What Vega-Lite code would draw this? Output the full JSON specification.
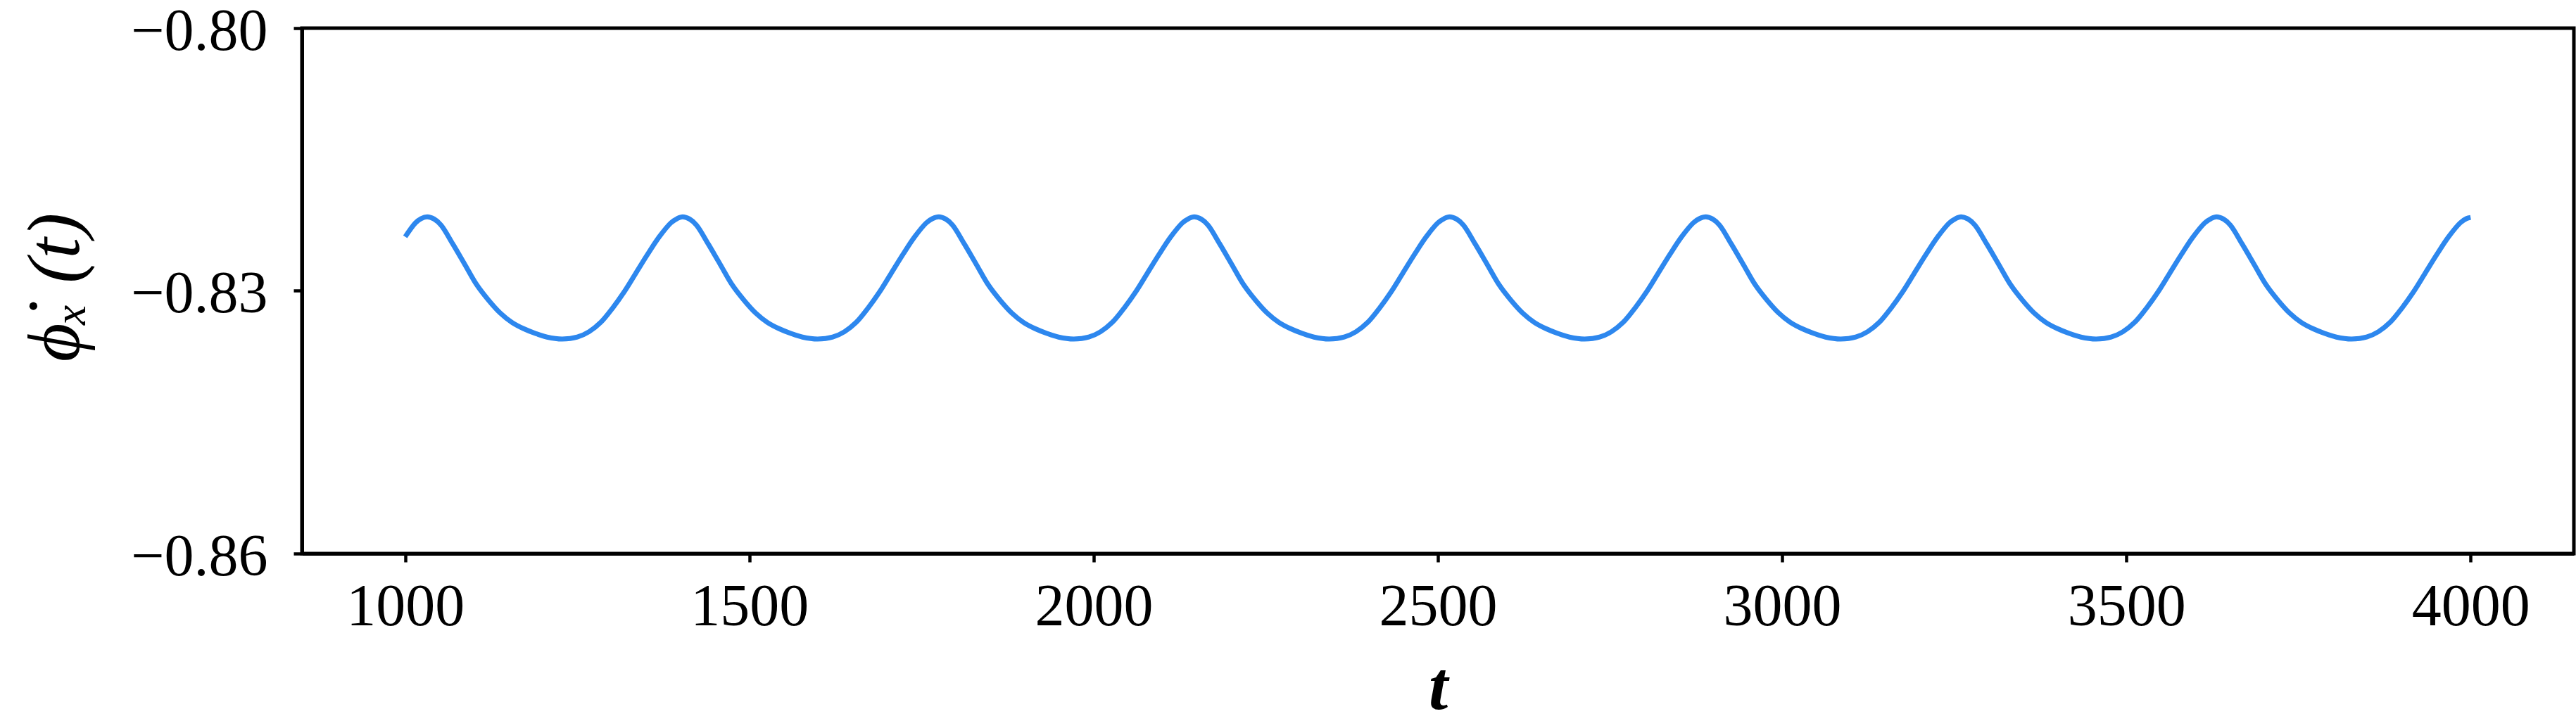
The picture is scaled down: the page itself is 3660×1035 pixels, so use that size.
{
  "$schema": "https://vega.github.io/schema/vega-lite/v6.json",
  "width": 3228,
  "height": 747,
  "autosize": "none",
  "padding": {"left": 429, "top": 40, "right": 3, "bottom": 248},
  "background": "white",
  "config": {
    "view": {"stroke": "black", "strokeWidth": 5},
    "axis": {
      "domainColor": "black",
      "domainWidth": 5,
      "tickColor": "black",
      "tickWidth": 4.5,
      "tickSize": 12,
      "grid": false,
      "labelFont": "Liberation Serif",
      "labelFontSize": 84,
      "labelColor": "black",
      "labelFlush": false,
      "labelOverlap": false,
      "labelLimit": 600,
      "titleFont": "Liberation Serif",
      "titleColor": "black",
      "titleLimit": 1000
    }
  },
  "data": {
    "values": [
      {"t": 1000, "v": -0.82383}, {"t": 1015, "v": -0.82223}, {"t": 1023, "v": -0.82175},
      {"t": 1032, "v": -0.82155}, {"t": 1042, "v": -0.8218}, {"t": 1052, "v": -0.82249}, {"t": 1069, "v": -0.82463}, {"t": 1087, "v": -0.82704}, {"t": 1104, "v": -0.82932}, {"t": 1121, "v": -0.83106}, {"t": 1138, "v": -0.83253}, {"t": 1155, "v": -0.8336}, {"t": 1172, "v": -0.83432}, {"t": 1189, "v": -0.83486}, {"t": 1206, "v": -0.83528}, {"t": 1228, "v": -0.8355}, {"t": 1250, "v": -0.83528}, {"t": 1267, "v": -0.83467}, {"t": 1284, "v": -0.8336}, {"t": 1301, "v": -0.83199}, {"t": 1318, "v": -0.83012}, {"t": 1335, "v": -0.82798}, {"t": 1352, "v": -0.82584}, {"t": 1369, "v": -0.82383}, {"t": 1386, "v": -0.82223}, {"t": 1395, "v": -0.82175},
      {"t": 1403, "v": -0.82155}, {"t": 1413, "v": -0.8218}, {"t": 1423, "v": -0.82249}, {"t": 1440, "v": -0.82463}, {"t": 1458, "v": -0.82704}, {"t": 1475, "v": -0.82932}, {"t": 1492, "v": -0.83106}, {"t": 1509, "v": -0.83253}, {"t": 1526, "v": -0.8336}, {"t": 1543, "v": -0.83432}, {"t": 1560, "v": -0.83486}, {"t": 1577, "v": -0.83528}, {"t": 1599, "v": -0.8355}, {"t": 1621, "v": -0.83528}, {"t": 1638, "v": -0.83467}, {"t": 1655, "v": -0.8336}, {"t": 1672, "v": -0.83199}, {"t": 1689, "v": -0.83012}, {"t": 1706, "v": -0.82798}, {"t": 1723, "v": -0.82584}, {"t": 1740, "v": -0.82383}, {"t": 1757, "v": -0.82223}, {"t": 1766, "v": -0.82175},
      {"t": 1775, "v": -0.82155}, {"t": 1785, "v": -0.8218}, {"t": 1795, "v": -0.82249}, {"t": 1812, "v": -0.82463}, {"t": 1830, "v": -0.82704}, {"t": 1847, "v": -0.82932}, {"t": 1864, "v": -0.83106}, {"t": 1881, "v": -0.83253}, {"t": 1898, "v": -0.8336}, {"t": 1915, "v": -0.83432}, {"t": 1932, "v": -0.83486}, {"t": 1949, "v": -0.83528}, {"t": 1971, "v": -0.8355}, {"t": 1993, "v": -0.83528}, {"t": 2010, "v": -0.83467}, {"t": 2027, "v": -0.8336}, {"t": 2044, "v": -0.83199}, {"t": 2061, "v": -0.83012}, {"t": 2078, "v": -0.82798}, {"t": 2095, "v": -0.82584}, {"t": 2112, "v": -0.82383}, {"t": 2129, "v": -0.82223}, {"t": 2138, "v": -0.82175},
      {"t": 2146, "v": -0.82155}, {"t": 2156, "v": -0.8218}, {"t": 2166, "v": -0.82249}, {"t": 2183, "v": -0.82463}, {"t": 2201, "v": -0.82704}, {"t": 2218, "v": -0.82932}, {"t": 2235, "v": -0.83106}, {"t": 2252, "v": -0.83253}, {"t": 2269, "v": -0.8336}, {"t": 2286, "v": -0.83432}, {"t": 2303, "v": -0.83486}, {"t": 2320, "v": -0.83528}, {"t": 2342, "v": -0.8355}, {"t": 2364, "v": -0.83528}, {"t": 2381, "v": -0.83467}, {"t": 2398, "v": -0.8336}, {"t": 2415, "v": -0.83199}, {"t": 2432, "v": -0.83012}, {"t": 2449, "v": -0.82798}, {"t": 2466, "v": -0.82584}, {"t": 2483, "v": -0.82383}, {"t": 2500, "v": -0.82223}, {"t": 2509, "v": -0.82175},
      {"t": 2517, "v": -0.82155}, {"t": 2527, "v": -0.8218}, {"t": 2537, "v": -0.82249}, {"t": 2554, "v": -0.82463}, {"t": 2572, "v": -0.82704}, {"t": 2589, "v": -0.82932}, {"t": 2606, "v": -0.83106}, {"t": 2623, "v": -0.83253}, {"t": 2640, "v": -0.8336}, {"t": 2657, "v": -0.83432}, {"t": 2674, "v": -0.83486}, {"t": 2691, "v": -0.83528}, {"t": 2713, "v": -0.8355}, {"t": 2735, "v": -0.83528}, {"t": 2752, "v": -0.83467}, {"t": 2769, "v": -0.8336}, {"t": 2786, "v": -0.83199}, {"t": 2803, "v": -0.83012}, {"t": 2820, "v": -0.82798}, {"t": 2837, "v": -0.82584}, {"t": 2854, "v": -0.82383}, {"t": 2871, "v": -0.82223}, {"t": 2880, "v": -0.82175},
      {"t": 2889, "v": -0.82155}, {"t": 2899, "v": -0.8218}, {"t": 2909, "v": -0.82249}, {"t": 2926, "v": -0.82463}, {"t": 2944, "v": -0.82704}, {"t": 2961, "v": -0.82932}, {"t": 2978, "v": -0.83106}, {"t": 2995, "v": -0.83253}, {"t": 3012, "v": -0.8336}, {"t": 3029, "v": -0.83432}, {"t": 3046, "v": -0.83486}, {"t": 3063, "v": -0.83528}, {"t": 3085, "v": -0.8355}, {"t": 3107, "v": -0.83528}, {"t": 3124, "v": -0.83467}, {"t": 3141, "v": -0.8336}, {"t": 3158, "v": -0.83199}, {"t": 3175, "v": -0.83012}, {"t": 3192, "v": -0.82798}, {"t": 3209, "v": -0.82584}, {"t": 3226, "v": -0.82383}, {"t": 3243, "v": -0.82223}, {"t": 3252, "v": -0.82175},
      {"t": 3260, "v": -0.82155}, {"t": 3270, "v": -0.8218}, {"t": 3280, "v": -0.82249}, {"t": 3297, "v": -0.82463}, {"t": 3315, "v": -0.82704}, {"t": 3332, "v": -0.82932}, {"t": 3349, "v": -0.83106}, {"t": 3366, "v": -0.83253}, {"t": 3383, "v": -0.8336}, {"t": 3400, "v": -0.83432}, {"t": 3417, "v": -0.83486}, {"t": 3434, "v": -0.83528}, {"t": 3456, "v": -0.8355}, {"t": 3478, "v": -0.83528}, {"t": 3495, "v": -0.83467}, {"t": 3512, "v": -0.8336}, {"t": 3529, "v": -0.83199}, {"t": 3546, "v": -0.83012}, {"t": 3563, "v": -0.82798}, {"t": 3580, "v": -0.82584}, {"t": 3597, "v": -0.82383}, {"t": 3614, "v": -0.82223}, {"t": 3623, "v": -0.82175},
      {"t": 3631, "v": -0.82155}, {"t": 3641, "v": -0.8218}, {"t": 3651, "v": -0.82249}, {"t": 3668, "v": -0.82463}, {"t": 3686, "v": -0.82704}, {"t": 3703, "v": -0.82932}, {"t": 3720, "v": -0.83106}, {"t": 3737, "v": -0.83253}, {"t": 3754, "v": -0.8336}, {"t": 3771, "v": -0.83432}, {"t": 3788, "v": -0.83486}, {"t": 3805, "v": -0.83528}, {"t": 3827, "v": -0.8355}, {"t": 3849, "v": -0.83528}, {"t": 3866, "v": -0.83467}, {"t": 3883, "v": -0.8336}, {"t": 3900, "v": -0.83199}, {"t": 3917, "v": -0.83012}, {"t": 3934, "v": -0.82798}, {"t": 3951, "v": -0.82584}, {"t": 3968, "v": -0.82383}, {"t": 3985, "v": -0.82223}, {"t": 3994, "v": -0.82175},
      {"t": 4000, "v": -0.82162}
    ]
  },
  "mark": {"type": "line", "color": "#2d87ee", "strokeWidth": 7, "interpolate": "catmull-rom", "clip": true},
  "encoding": {
    "x": {
      "field": "t",
      "type": "quantitative",
      "scale": {"domain": [850, 4150], "nice": false, "zero": false},
      "axis": {
        "values": [1000, 1500, 2000, 2500, 3000, 3500, 4000],
        "format": "d",
        "labelPadding": 23,
        "title": "t",
        "titleFontSize": 98,
        "titleFontStyle": "italic",
        "titleFontWeight": "bold",
        "titleBaseline": "alphabetic",
        "titleY": 220,
        "titleX": 1614
      }
    },
    "y": {
      "field": "v",
      "type": "quantitative",
      "scale": {"domain": [-0.86, -0.8], "nice": false, "zero": false},
      "axis": {
        "values": [-0.86, -0.83, -0.8],
        "format": ".2f",
        "labelPadding": 37,
        "labelOffset": 5,
        "title": "ϕ̇ₓ  (t)",
        "titleFontSize": 106,
        "titleFontStyle": "italic",
        "titleFontWeight": "normal",
        "titleAngle": -90,
        "titleAlign": "center",
        "titleBaseline": "alphabetic",
        "titleX": -318,
        "titleY": 368
      }
    }
  }
}
